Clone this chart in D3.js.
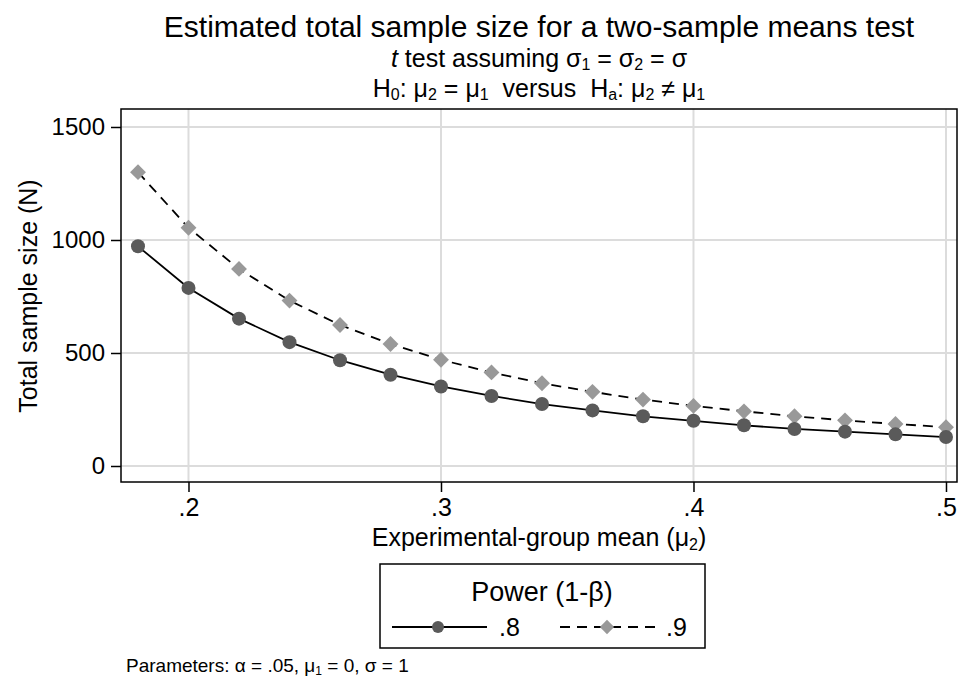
<!DOCTYPE html>
<html>
<head>
<meta charset="utf-8">
<script src="https://cdn.jsdelivr.net/npm/d3@7"></script>
<style>
 body { margin: 0; background: #fff; }
 text { font-family: "Liberation Sans", Arial, sans-serif; fill: #000; }
</style>
</head>
<body>
<div id="chart"></div>
<script>
 const mu2 = [0.18, 0.20, 0.22, 0.24, 0.26, 0.28, 0.30, 0.32, 0.34, 0.36, 0.38, 0.40, 0.42, 0.44, 0.46, 0.48, 0.50];
 const n80 = [972, 788, 652, 548, 468, 404, 352, 310, 274, 246, 220, 200, 180, 164, 152, 140, 128];
 const n90 = [1300, 1054, 872, 732, 624, 540, 470, 414, 366, 328, 294, 266, 242, 220, 202, 186, 172];
 const xTicks = [0.2, 0.3, 0.4, 0.5];
 const yTicks = [0, 500, 1000, 1500];

 const width = 958;
 const height = 680;
 const plot = { left: 121, right: 957, top: 109, bottom: 482 };
 const NB = "\u00a0";

 const svg = d3
  .select("#chart")
  .append("svg")
  .attr("width", width)
  .attr("height", height);

 const x = d3.scaleLinear().domain([0.17327, 0.50436]).range([plot.left, plot.right]);
 const y = d3.scaleLinear().domain([-70.8, 1579.6]).range([plot.bottom, plot.top]);

 // gridlines
 svg
  .append("g")
  .selectAll("line")
  .data(yTicks)
  .enter()
  .append("line")
  .attr("x1", plot.left)
  .attr("x2", plot.right)
  .attr("y1", (d) => y(d))
  .attr("y2", (d) => y(d))
  .attr("stroke", "#dcdcdc")
  .attr("stroke-width", 2);

 svg
  .append("g")
  .selectAll("line")
  .data(xTicks)
  .enter()
  .append("line")
  .attr("x1", (d) => x(d))
  .attr("x2", (d) => x(d))
  .attr("y1", plot.top)
  .attr("y2", plot.bottom)
  .attr("stroke", "#dcdcdc")
  .attr("stroke-width", 2);

 // frame
 svg
  .append("rect")
  .attr("x", plot.left)
  .attr("y", plot.top)
  .attr("width", plot.right - plot.left)
  .attr("height", plot.bottom - plot.top)
  .attr("fill", "none")
  .attr("stroke", "#000")
  .attr("stroke-width", 1.5);

 // axes
 const yAxis = svg
  .append("g")
  .attr("transform", `translate(${plot.left},0)`)
  .call(d3.axisLeft(y).tickValues(yTicks).tickSize(10).tickPadding(6).tickFormat(d3.format("d")));
 yAxis.select(".domain").remove();
 yAxis.selectAll("line").attr("stroke-width", 1.5);
 yAxis.selectAll("text").style("font-size", "24px").attr("fill", "#000");

 const xAxis = svg
  .append("g")
  .attr("transform", `translate(0,${plot.bottom})`)
  .call(
   d3
    .axisBottom(x)
    .tickValues(xTicks)
    .tickSize(10)
    .tickPadding(6)
    .tickFormat((d) => d3.format(".1f")(d).replace(/^0/, ""))
  );
 xAxis.select(".domain").remove();
 xAxis.selectAll("line").attr("stroke-width", 1.5);
 xAxis.selectAll("text").style("font-size", "25px").attr("fill", "#000");

 // series
 const line = d3.line().x((d, i) => x(mu2[i])).y((d) => y(d));

 svg
  .append("path")
  .attr("d", line(n90))
  .attr("fill", "none")
  .attr("stroke", "#000")
  .attr("stroke-width", 1.8)
  .attr("stroke-dasharray", "10,7");

 svg
  .append("path")
  .attr("d", line(n80))
  .attr("fill", "none")
  .attr("stroke", "#000")
  .attr("stroke-width", 1.8);

 const diamond = d3.symbol().type(d3.symbolDiamond2).size(160);

 svg
  .append("g")
  .selectAll("path")
  .data(n90)
  .enter()
  .append("path")
  .attr("d", diamond)
  .attr("transform", (d, i) => `translate(${x(mu2[i])},${y(d)})`)
  .attr("fill", "#999999");

 svg
  .append("g")
  .selectAll("circle")
  .data(n80)
  .enter()
  .append("circle")
  .attr("cx", (d, i) => x(mu2[i]))
  .attr("cy", (d) => y(d))
  .attr("r", 7)
  .attr("fill", "#5a5a5a");

 // text with subscripts: parts = [[text, isSub], ...]
 function richText(sel, parts, subSize, drop) {
  let down = false;
  parts.forEach(([t, sub]) => {
   const ts = sel.append("tspan").text(t);
   if (sub && !down) { ts.attr("dy", drop).style("font-size", subSize); down = true; }
   else if (sub) { ts.style("font-size", subSize); }
   else if (down) { ts.attr("dy", -drop); down = false; }
  });
  return sel;
 }

 // titles
 svg
  .append("text")
  .attr("x", 539)
  .attr("y", 37)
  .attr("text-anchor", "middle")
  .style("font-size", "30px")
  .text("Estimated total sample size for a two-sample means test");

 const sub1 = svg
  .append("text")
  .attr("x", 539)
  .attr("y", 67)
  .attr("text-anchor", "middle")
  .style("font-size", "25px");
 sub1.append("tspan").style("font-style", "italic").text("t");
 richText(sub1, [[" test assuming σ", false], ["1", true], [" = σ", false], ["2", true], [" = σ", false]], "16px", 3);

 const sub2 = svg
  .append("text")
  .attr("x", 539)
  .attr("y", 97)
  .attr("text-anchor", "middle")
  .style("font-size", "25px");
 richText(sub2, [
  ["H", false], ["0", true], [": μ", false], ["2", true], [" = μ", false], ["1", true],
  [NB + NB + "versus" + NB + NB + "H", false], ["a", true], [": μ", false], ["2", true],
  [" ≠ μ", false], ["1", true]
 ], "16px", 3);

 svg
  .append("text")
  .attr("transform", "translate(37,296) rotate(-90)")
  .attr("text-anchor", "middle")
  .style("font-size", "25px")
  .text("Total sample size (N)");

 const xt = svg
  .append("text")
  .attr("x", 539)
  .attr("y", 546)
  .attr("text-anchor", "middle")
  .style("font-size", "25px");
 richText(xt, [["Experimental-group mean (μ", false], ["2", true], [")", false]], "16px", 4);

 // legend
 const lg = svg.append("g");
 lg.append("rect")
  .attr("x", 380)
  .attr("y", 564)
  .attr("width", 325)
  .attr("height", 84)
  .attr("fill", "#fff")
  .attr("stroke", "#000")
  .attr("stroke-width", 1.5);
 lg.append("text")
  .attr("x", 542)
  .attr("y", 601)
  .attr("text-anchor", "middle")
  .style("font-size", "27px")
  .text("Power (1-β)");

 lg.append("line")
  .attr("x1", 392).attr("x2", 487).attr("y1", 627).attr("y2", 627)
  .attr("stroke", "#000").attr("stroke-width", 1.8);
 lg.append("circle")
  .attr("cx", 438).attr("cy", 627).attr("r", 6).attr("fill", "#5a5a5a");
 lg.append("text")
  .attr("x", 499).attr("y", 636)
  .style("font-size", "25px")
  .text(".8");

 lg.append("line")
  .attr("x1", 560).attr("x2", 655).attr("y1", 627).attr("y2", 627)
  .attr("stroke", "#000").attr("stroke-width", 1.8)
  .attr("stroke-dasharray", "10,7");
 lg.append("path")
  .attr("d", d3.symbol().type(d3.symbolDiamond2).size(130))
  .attr("transform", "translate(607,627)")
  .attr("fill", "#999999");
 lg.append("text")
  .attr("x", 666).attr("y", 636)
  .style("font-size", "25px")
  .text(".9");

 // note
 const note = svg
  .append("text")
  .attr("x", 126)
  .attr("y", 672)
  .style("font-size", "19px");
 richText(note, [["Parameters: α = .05, μ", false], ["1", true], [" = 0, σ = 1", false]], "12px", 3);
</script>
</body>
</html>
